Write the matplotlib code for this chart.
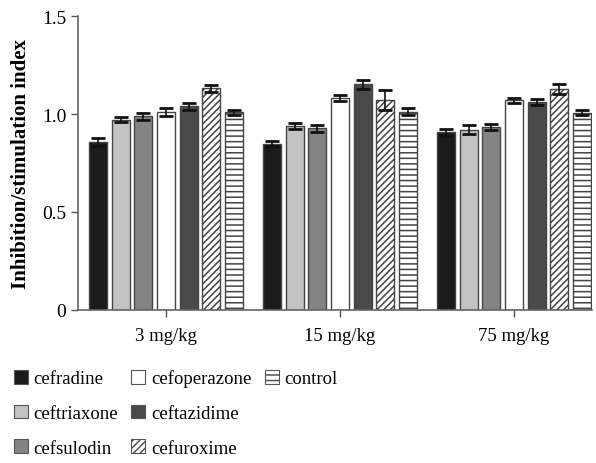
import matplotlib
matplotlib.use("Agg")
import matplotlib.pyplot as plt
import numpy as np
from matplotlib.patches import Patch

plt.rcParams['font.family'] = ['Liberation Serif', 'DejaVu Serif']
plt.rcParams['hatch.color'] = '#333333'
plt.rcParams['hatch.linewidth'] = 1.1

doses = ["3 mg/kg", "15 mg/kg", "75 mg/kg"]
drugs = ["cefradine", "ceftriaxone", "cefsulodin", "cefoperazone",
         "ceftazidime", "cefuroxime", "control"]
means = {
    "cefradine":    [0.856, 0.849, 0.906],
    "ceftriaxone":  [0.971, 0.939, 0.920],
    "cefsulodin":   [0.988, 0.927, 0.934],
    "cefoperazone": [1.012, 1.080, 1.070],
    "ceftazidime":  [1.039, 1.151, 1.060],
    "cefuroxime":   [1.131, 1.071, 1.128],
    "control":      [1.009, 1.012, 1.007],
}
errors = {
    "cefradine":    [0.020, 0.013, 0.017],
    "ceftriaxone":  [0.012, 0.017, 0.022],
    "cefsulodin":   [0.019, 0.017, 0.017],
    "cefoperazone": [0.020, 0.015, 0.013],
    "ceftazidime":  [0.019, 0.021, 0.015],
    "cefuroxime":   [0.017, 0.051, 0.027],
    "control":      [0.012, 0.017, 0.012],
}
styles = {
    "cefradine":    dict(facecolor="#1b1b1b", hatch=None),
    "ceftriaxone":  dict(facecolor="#c3c3c3", hatch=None),
    "cefsulodin":   dict(facecolor="#848484", hatch=None),
    "cefoperazone": dict(facecolor="#ffffff", hatch=None),
    "ceftazidime":  dict(facecolor="#4a4a4a", hatch=None),
    "cefuroxime":   dict(facecolor="#ffffff", hatch="/////"),
    "control":      dict(facecolor="#ffffff", hatch="---"),
}

fig = plt.figure(figsize=(5.96, 4.64), dpi=100)
ax = fig.add_axes([78/596, 1-311/464, (592-78)/596, (311-17)/464])

x = np.arange(len(doses))
pitch = 0.1305
width = 0.103
handles = []
for i, d in enumerate(drugs):
    pos = x + (i - 3) * pitch
    st = styles[d]
    ax.bar(pos, means[d], width, facecolor=st["facecolor"], hatch=st["hatch"],
           edgecolor="#444444", linewidth=1.0, zorder=2)
    ax.errorbar(pos, means[d], yerr=errors[d], fmt='none', ecolor='#111111',
                elinewidth=1.2, capsize=4.8, capthick=2.0, zorder=3)
    handles.append(Patch(facecolor=st["facecolor"], hatch=st["hatch"],
                         edgecolor="#555555", linewidth=0.8, label=d))

ax.set_xlim(-0.5057, 2.448)
ax.set_ylim(0, 1.5)
ax.set_yticks([0, 0.5, 1.0, 1.5])
ax.set_yticklabels(["0", "0.5", "1.0", "1.5"])
ax.set_xticks(x)
ax.set_xticklabels(doses)
ax.tick_params(axis='y', labelsize=14, color='#555555', direction='out', length=5, width=1)
ax.tick_params(axis='x', labelsize=13.5, color='#555555', direction='out', length=5, width=1, pad=7)
for s in ['top', 'right']:
    ax.spines[s].set_visible(False)
for s in ['left', 'bottom']:
    ax.spines[s].set_color('#666666')
    ax.spines[s].set_linewidth(1.2)
ax.set_ylabel("Inhibition/stimulation index", fontsize=15, fontweight='bold', labelpad=8)

blank = Patch(facecolor='none', edgecolor='none', label='')
leg_handles = handles[:6] + [handles[6], blank]
fig.legend(handles=leg_handles, labels=[h.get_label() for h in leg_handles],
           ncol=3, loc='upper left', bbox_to_anchor=(6/596, 1-363/464),
           frameon=False, fontsize=13.5, handlelength=0.75, handleheight=0.75,
           handletextpad=0.3, columnspacing=0.72, labelspacing=0.92,
           borderaxespad=0.0, borderpad=0.4)

fig.savefig("out.png", dpi=100)
